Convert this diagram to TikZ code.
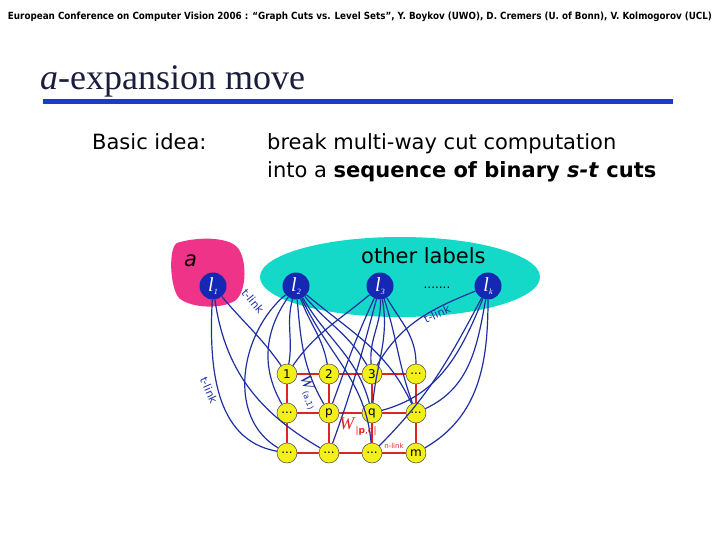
\documentclass[tikz,border=0pt]{standalone}
\usepackage{fontspec}
\usepackage{graphicx}
\setmainfont{Liberation Serif}
\newfontfamily\dv{DejaVu Sans}
\definecolor{rulebl}{HTML}{1440C8}
\definecolor{pinkr}{HTML}{EE3388}
\definecolor{cyanr}{HTML}{14D8C8}
\definecolor{lblue}{HTML}{1428B4}
\definecolor{edgeb}{HTML}{1E30A0}
\definecolor{gridred}{HTML}{E02424}
\definecolor{nodey}{HTML}{F2F018}
\definecolor{titlec}{HTML}{1A1E3C}
\begin{document}
\begin{tikzpicture}[x=1pt,y=-1pt,
  lnode/.style={circle,fill=lblue,minimum size=27pt,inner sep=0pt,text=white,font=\fontsize{20}{20}\selectfont\itshape},
  gnode/.style={circle,fill=nodey,draw=black!70,line width=0.5pt,minimum size=20pt,inner sep=0pt,font=\dv\fontsize{12}{12}\selectfont},
  tedge/.style={draw=edgeb,line width=1.2pt},
  nedge/.style={draw=gridred,line width=2.6pt},
  lab/.style={font=\dv\fontsize{21}{21}\selectfont,anchor=base west,inner sep=0pt},
  tlab/.style={text=edgeb,font=\dv\fontsize{11}{11}\selectfont,inner sep=0pt}]
\useasboundingbox (0,0) rectangle (720,540);
% header
\node[inner sep=0pt] (hdr) at (360,17) {\resizebox{704pt}{7.5pt}{\dv\bfseries European Conference on Computer Vision 2006 :  “Graph Cuts vs. Level Sets”,  Y. Boykov (UWO), D. Cremers (U. of Bonn), V. Kolmogorov (UCL)}};
% title
\node[anchor=base west,inner sep=0pt,text=titlec,font=\fontsize{36}{36}\selectfont] (title) at (40,90) {\textit{a}-expansion move};
\coordinate (ruleA) at (43,101.5);
\coordinate (ruleB) at (673,101.5);
\draw[rulebl,line width=5pt] (ruleA) -- (ruleB);
% text
\node[lab] (basic) at (92,150) {Basic idea:};
\node[lab] (lineA) at (267,150) {break multi-way cut computation};
\node[lab] (lineB) at (267,178) {into a \textbf{sequence of binary \textit{s-t} cuts}};
% regions
\fill[pinkr] (177,243) .. controls (195,237) and (228,236) .. (238,248)
  .. controls (247,260) and (247,290) .. (236,300)
  .. controls (222,310) and (190,308) .. (179,298)
  .. controls (170,288) and (168,248) .. (177,243) -- cycle;
\fill[cyanr] (400,277) ellipse [x radius=140, y radius=40];
\node[lab] (other) at (361,263) {other labels};
\node[lab,font=\dv\fontsize{21}{21}\selectfont\itshape] (alab) at (184,266) {a};
\node[inner sep=0pt,font=\dv\fontsize{12}{12}\selectfont] (dots) at (437,288) {.......};
% label nodes
\node[lnode] (l1) at (213,286) {l\raisebox{-3pt}{\fontsize{8}{8}\selectfont 1}};
\node[lnode] (l2) at (296,286) {l\raisebox{-3pt}{\fontsize{8}{8}\selectfont 2}};
\node[lnode] (l3) at (380,286) {l\raisebox{-3pt}{\fontsize{8}{8}\selectfont 3}};
\node[lnode] (lk) at (488,286) {l\raisebox{-3pt}{\fontsize{8}{8}\selectfont k}};
% grid nodes
\node[gnode] (g11) at (287,374) {1};
\node[gnode] (g12) at (329,374) {2};
\node[gnode] (g13) at (372,374) {3};
\node[gnode] (g14) at (416,374) {...};
\node[gnode] (g21) at (287,413) {...};
\node[gnode] (g22) at (329,413) {p};
\node[gnode] (g23) at (372,413) {q};
\node[gnode] (g24) at (416,413) {...};
\node[gnode] (g31) at (287,453) {...};
\node[gnode] (g32) at (329,453) {...};
\node[gnode] (g33) at (372,453) {...};
\node[gnode] (g34) at (416,453) {m};
% n-links
\draw[nedge] (g11) -- (g12); \draw[nedge] (g12) -- (g13); \draw[nedge] (g13) -- (g14);
\draw[nedge] (g21) -- (g22); \draw[nedge] (g22) -- (g23); \draw[nedge] (g23) -- (g24);
\draw[nedge] (g31) -- (g32); \draw[nedge] (g32) -- (g33); \draw[nedge] (g33) -- (g34);
\draw[nedge] (g11) -- (g21); \draw[nedge] (g21) -- (g31);
\draw[nedge] (g12) -- (g22); \draw[nedge] (g22) -- (g32);
\draw[nedge] (g13) -- (g23); \draw[nedge] (g23) -- (g33);
\draw[nedge] (g14) -- (g24); \draw[nedge] (g24) -- (g34);
% t-links from l1
\draw[tedge] (l1) to[out=-50,in=125] (g11);
\draw[tedge] (l1) to[out=-93,in=170] (g31);
\draw[tedge] (l1) to[out=-82,in=150] (g32);
% t-links from l2
\draw[tedge] (l2) to[out=-105,in=80] (g11);
\draw[tedge] (l2) to[out=-125,in=120] (g21);
\draw[tedge] (l2) to[out=-140,in=150] (g31);
\draw[tedge] (l2) to[out=-70,in=100] (g12);
\draw[tedge] (l2) to[out=-85,in=120] (g22);
\draw[tedge] (l2) to[out=-50,in=120] (g13);
\draw[tedge] (l2) to[out=-60,in=105] (g23);
\draw[tedge] (l2) to[out=-40,in=115] (g24);
\draw[tedge] (l2) to[out=-65,in=95] (g33);
% t-links from l3
\draw[tedge] (l3) to[out=-140,in=55] (g11);
\draw[tedge] (l3) to[out=-115,in=70] (g22);
\draw[tedge] (l3) to[out=-88,in=95] (g13);
\draw[tedge] (l3) to[out=-80,in=85] (g23);
\draw[tedge] (l3) to[out=-60,in=90] (g14);
\draw[tedge] (l3) to[out=-105,in=70] (g32);
\draw[tedge] (l3) to[out=-72,in=110] (g24);
% t-links from lk
\draw[tedge] (lk) to[out=-158,in=60] (g13);
\draw[tedge] (lk) to[out=-112,in=15] (g23);
\draw[tedge] (lk) to[out=-100,in=25] (g24);
\draw[tedge] (lk) to[out=-90,in=30] (g34);
\draw[tedge] (lk) to[out=-118,in=45] (g33);
% labels
\node[tlab,rotate=-50] (tl1) at (253,301) {t-link};
\node[tlab,rotate=25] (tl2) at (437,314) {t-link};
\node[tlab,rotate=-66] (tl3) at (209,390) {t-link};
\node[text=edgeb,rotate=-70,inner sep=0pt,font=\fontsize{17}{17}\selectfont] (wa) at (309,392) {\textit{W}\raisebox{-3pt}{\dv\fontsize{8}{8}\selectfont (a,1)}};
\node[text=gridred,inner sep=0pt,font=\fontsize{18}{18}\selectfont] (wpq) at (358,427) {\textit{W}\raisebox{-4pt}{\dv\fontsize{9}{9}\selectfont|\textbf{p},q|}};
\node[text=gridred,inner sep=0pt,font=\dv\fontsize{7}{7}\selectfont] (nl) at (394,446) {n-link};
\end{tikzpicture}
\end{document}
